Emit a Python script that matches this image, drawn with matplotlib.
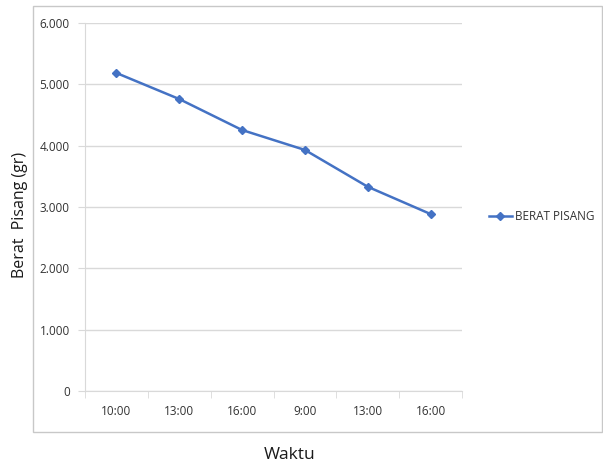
import matplotlib.pyplot as plt
import matplotlib.ticker as mticker
from matplotlib.patches import Rectangle

# data
waktu = ['10:00', '13:00', '16:00', '9:00', '13:00', '16:00']
berat = [5185, 4760, 4255, 3930, 3330, 2885]

LINE = '#4472C4'
GRID = '#d9d9d9'
TXT = '#333333'

plt.rcParams['font.family'] = ['Open Sans', 'DejaVu Sans']

fig = plt.figure(figsize=(6.03, 4.66), dpi=100)
W, H = 603.0, 466.0

# outer chart border
fig.patches.append(Rectangle((33 / W, 1 - 432 / H), (602 - 33) / W, (432 - 6) / H,
                             transform=fig.transFigure, fill=False,
                             edgecolor='#c8c8c8', linewidth=1.0))

ax = fig.add_axes([85 / W, 1 - 391 / H, (462 - 85) / W, (391 - 23) / H])
x = range(len(waktu))
ax.plot(x, berat, color=LINE, linewidth=1.8, marker='D', markersize=4,
        label='BERAT PISANG')

ax.set_xlim(-0.5, len(waktu) - 0.5)
ax.set_ylim(0, 6000)
ax.set_yticks(range(0, 6001, 1000))
ax.yaxis.set_major_formatter(mticker.FuncFormatter(
    lambda v, p: '0' if v == 0 else '{:,.0f}'.format(v).replace(',', '.')))
ax.set_xticks(list(x))
ax.set_xticklabels(waktu)
ax.set_xticks([i - 0.5 for i in range(len(waktu) + 1)], minor=True)
ax.tick_params(axis='x', which='major', length=0, pad=10, labelsize=8.5, colors=TXT)
ax.tick_params(axis='x', which='minor', length=5, color=GRID, direction='out')
ax.tick_params(axis='y', length=5, color=GRID, labelsize=8.5, labelcolor=TXT, pad=6)

ax.grid(axis='y', color=GRID, linewidth=1)
ax.set_axisbelow(True)
for s in ['top', 'right']:
    ax.spines[s].set_visible(False)
ax.spines['left'].set_color(GRID)
ax.spines['bottom'].set_color(GRID)

fig.text(20 / W, 1 - 215 / H, 'Berat  Pisang (gr)', rotation=90, ha='center',
         va='center', fontsize=11.5, color='#1a1a1a')
fig.text(290 / W, 1 - 455 / H, 'Waktu', ha='center', va='center',
         fontsize=12.5, color='#1a1a1a')

fig.legend(loc='center left', bbox_to_anchor=(478 / W, 1 - 217 / H), frameon=False,
           fontsize=8.5, handlelength=2.0, handletextpad=0.2, labelcolor=TXT)

fig.savefig('out.png', dpi=100)
